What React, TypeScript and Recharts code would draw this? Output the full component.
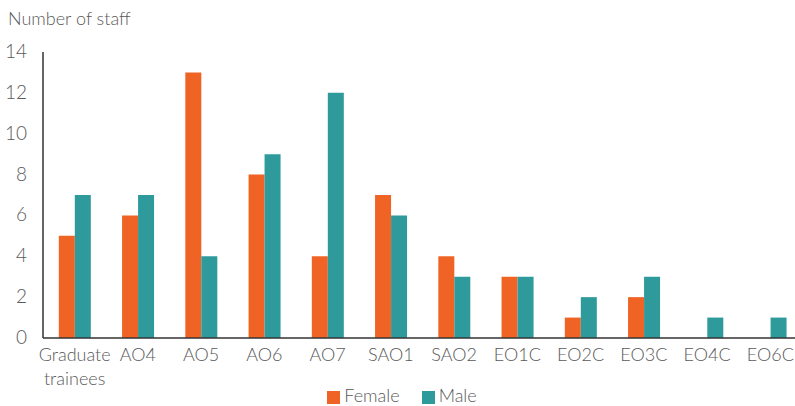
import { Bar, BarChart, Legend, XAxis, YAxis } from "recharts"

const grades = ["Graduate trainees", "AO4", "AO5", "AO6", "AO7", "SAO1", "SAO2", "EO1C", "EO2C", "EO3C", "EO4C", "EO6C"]
const female = [5, 6, 13, 8, 4, 7, 4, 3, 1, 2, 0, 0]
const male = [7, 7, 4, 9, 12, 6, 3, 3, 2, 3, 1, 1]
const yTicks = [0, 2, 4, 6, 8, 10, 12, 14]

const data = grades.map((grade, i) => ({ grade, female: female[i], male: male[i] }))

const font = "Lato, 'Open Sans', sans-serif"
const grey = "#595959"

function GradeTick(props: any) {
  const { x, y, payload } = props
  const words = String(payload.value).split(" ")
  return (
    <text x={x} y={y} textAnchor="middle" fill={grey} fontFamily={font} fontWeight={300} fontSize={18}>
      {words.map((w: string, i: number) => (
        <tspan key={i} x={x} dy={i === 0 ? 15 : 24}>
          {w}
        </tspan>
      ))}
    </text>
  )
}

function CountTick(props: any) {
  const { y, payload } = props
  return (
    <text x={27} y={y} dy={6} textAnchor="end" fill={grey} fontFamily={font} fontWeight={300} fontSize={19}>
      {payload.value}
    </text>
  )
}

export default function App() {
  return (
    <div style={{ position: "absolute", left: 0, top: 0, width: 795, height: 406, fontFamily: font }}>
      <div style={{ position: "absolute", left: 8, top: 7, fontSize: 18, fontWeight: 300, color: grey }}>
        Number of staff
      </div>
      <BarChart
        width={795}
        height={406}
        data={data}
        margin={{ top: 52, right: -7, left: 0, bottom: 0 }}
        barCategoryGap="25%"
        barGap={0}
      >
        <XAxis
          dataKey="grade"
          tickLine={false}
          axisLine={{ stroke: "#333", strokeWidth: 1.5 }}
          tick={<GradeTick />}
          interval={0}
          height={46}
        />
        <YAxis
          width={43}
          domain={[0, 14]}
          ticks={yTicks}
          tickLine={false}
          axisLine={{ stroke: "#333", strokeWidth: 1.5 }}
          tick={<CountTick />}
        />
        <Legend
          verticalAlign="bottom"
          iconType="square"
          iconSize={13}
          wrapperStyle={{ fontSize: 18, fontWeight: 300, fontFamily: font, paddingTop: 0, marginLeft: 12 }}
          formatter={(value) => <span style={{ color: grey, marginRight: 12 }}>{value}</span>}
        />
        <Bar dataKey="female" name="Female" fill="#EF6424" isAnimationActive={false} />
        <Bar dataKey="male" name="Male" fill="#2E9A9C" isAnimationActive={false} />
      </BarChart>
    </div>
  )
}
